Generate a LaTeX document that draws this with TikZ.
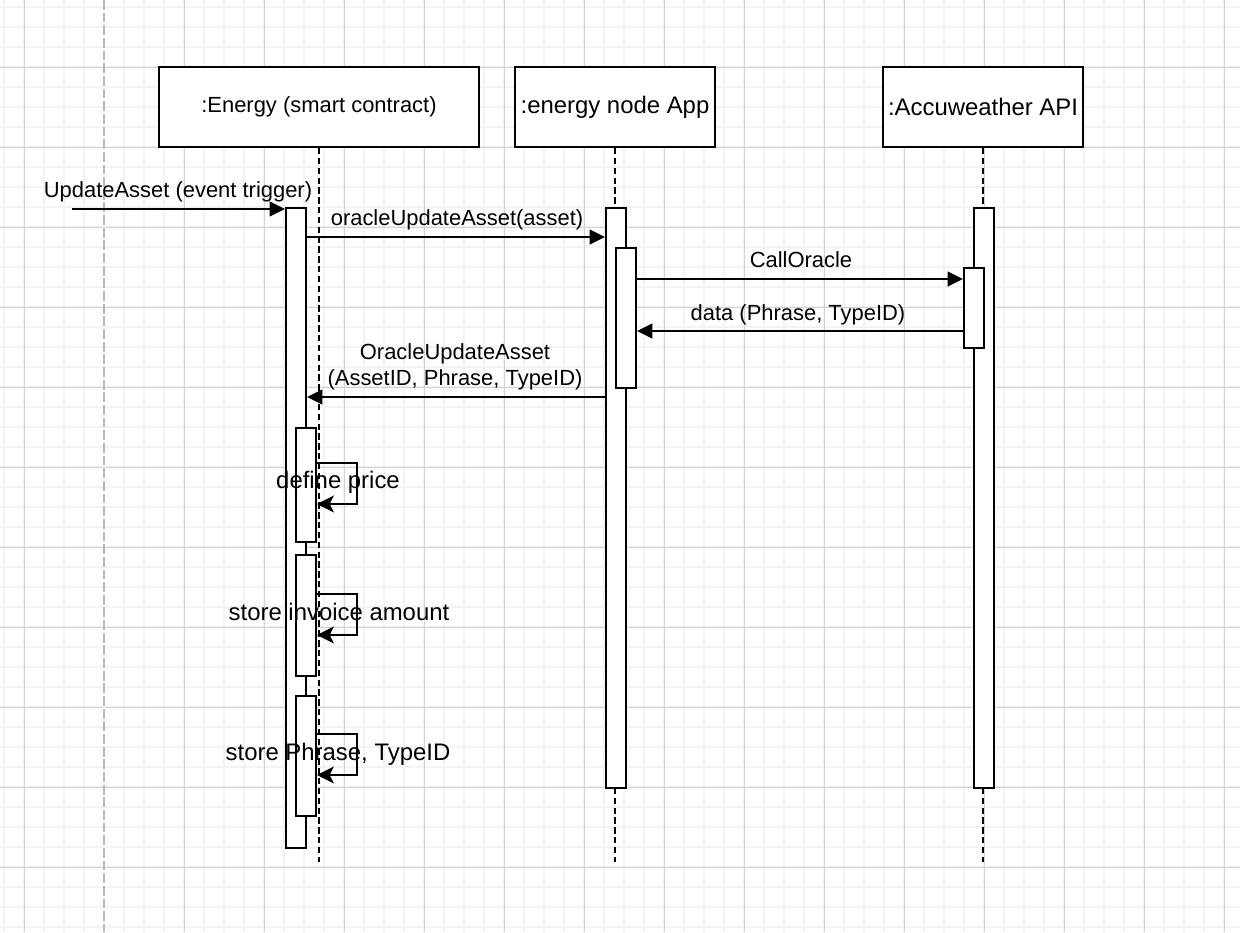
\documentclass[tikz,border=0pt]{standalone}
\usepackage{fontspec}
\setmainfont{Liberation Sans}
\usetikzlibrary{arrows.meta}
\definecolor{gridminor}{HTML}{F3F3F3}
\definecolor{gridmajor}{HTML}{D2D2D2}
\definecolor{pagebreak}{HTML}{B8B8B8}
\newcommand{\msgsize}{\fontsize{15.6}{18.6}\selectfont}
\newcommand{\bigsize}{\fontsize{17}{20}\selectfont}

\begin{document}
\begin{tikzpicture}[x=0.025cm, y=-0.025cm,
    head/.style={draw, fill=white, line width=1.4pt, minimum height=2cm, inner sep=0pt},
    act/.style={draw, fill=white, line width=1.4pt, minimum width=0.5cm, inner sep=0pt, anchor=north west},
    life/.style={line width=1.4pt, dash pattern=on 4.5pt off 2.5pt},
    msg/.style={line width=1.4pt, -{Triangle[length=11pt, width=10.5pt]}},
    self/.style={line width=1.4pt, -{Stealth[length=12pt, width=12pt, inset=3pt]}},
    lbl/.style={anchor=base, inner sep=0pt, font=\msgsize}]

    % 1. Nền trắng và lưới ô vuông
    \useasboundingbox[fill=white] (0,0) rectangle (1240,932);
    \foreach \i in {0,...,61} \draw[gridminor, line width=1pt] (4+20*\i,0) -- (4+20*\i,932);
    \foreach \i in {0,...,46} \draw[gridminor, line width=1pt] (0,7+20*\i) -- (1240,7+20*\i);
    \foreach \i in {0,...,15} \draw[gridmajor, line width=0.7pt] (24+80*\i,0) -- (24+80*\i,932);
    \foreach \i in {0,...,10} \draw[gridmajor, line width=0.7pt] (0,67+80*\i) -- (1240,67+80*\i);

    % đường ngắt trang nét đứt
    \draw[white, line width=1.2pt] (104,0) -- (104,932);
    \draw[pagebreak, line width=1.2pt, dash pattern=on 7pt off 2pt] (104,0) -- (104,932);

    % 2. Các đối tượng (đầu đường đời)
    \node[head, minimum width=8cm, font=\msgsize] (energy) at (319,107) {:Energy (smart contract)};
    \node[head, minimum width=5cm, font=\bigsize] (app) at (615,107) {:energy node App};
    \node[head, minimum width=5cm, font=\bigsize] (api) at (983,107) {:Accuweather API};

    % 3. Đường đời nét đứt
    \coordinate (energyEnd) at (319,862);
    \coordinate (appEnd) at (615,862);
    \coordinate (apiEnd) at (983,862);
    \draw[life] (energy.south) -- (energyEnd);
    \draw[life] (app.south) -- (appEnd);
    \draw[life] (api.south) -- (apiEnd);

    % 4. Thanh kích hoạt
    \node[act, minimum height=16cm] (eAct) at (285,207) {};
    \node[act, minimum height=2.85cm] (eDef) at (295,427) {};
    \node[act, minimum height=3.025cm] (eInv) at (295,554) {};
    \node[act, minimum height=3cm] (eStore) at (295,695) {};
    \node[act, minimum height=14.5cm] (aAct) at (605,207) {};
    \node[act, minimum height=3.5cm] (aCall) at (615,247) {};
    \node[act, minimum height=14.5cm] (wAct) at (973,207) {};
    \node[act, minimum height=2cm] (wData) at (963,267) {};

    % 5. Các thông điệp
    % Sự kiện kích hoạt từ bên ngoài
    \coordinate (trigger) at (72,209);
    \draw[msg] (trigger) -- (eAct.west |- trigger);
    \node[lbl] (trigLbl) at (178,197) {UpdateAsset (event trigger)};

    % Energy -> App
    \draw[msg] (eAct.east |- 0,237) -- (aAct.west |- 0,237);
    \node[lbl] (updLbl) at (457,225.7) {oracleUpdateAsset(asset)};

    % App -> API và trả về
    \draw[msg] (aCall.east |- 0,279) -- (wData.west |- 0,279);
    \node[lbl] (callLbl) at (801,267.7) {CallOracle};
    \draw[msg] (wData.west |- 0,331) -- (aCall.east |- 0,331);
    \node[lbl] (dataLbl) at (798,320) {data (Phrase, TypeID)};

    % App -> Energy
    \draw[msg] (aAct.west |- 0,397) -- (eAct.east |- 0,397);
    \node[lbl] (retLbl1) at (455,359) {OracleUpdateAsset};
    \node[lbl] (retLbl2) at (455,385.7) {(AssetID, Phrase, TypeID)};

    % 6. Thông điệp tự gọi
    \draw[self] (eDef.east |- 0,463) -- ++(40,0) |- (eDef.east |- 0,504);
    \node[lbl, font=\bigsize] (defLbl) at (338,488.3) {define price};
    \draw[self] (eInv.east |- 0,594) -- ++(40,0) |- (eInv.east |- 0,635);
    \node[lbl, font=\bigsize] (invLbl) at (339,620) {store invoice amount};
    \draw[self] (eStore.east |- 0,734) -- ++(40,0) |- (eStore.east |- 0,775);
    \node[lbl, font=\bigsize] (storeLbl) at (338,760) {store Phrase, TypeID};

\end{tikzpicture}
\end{document}
